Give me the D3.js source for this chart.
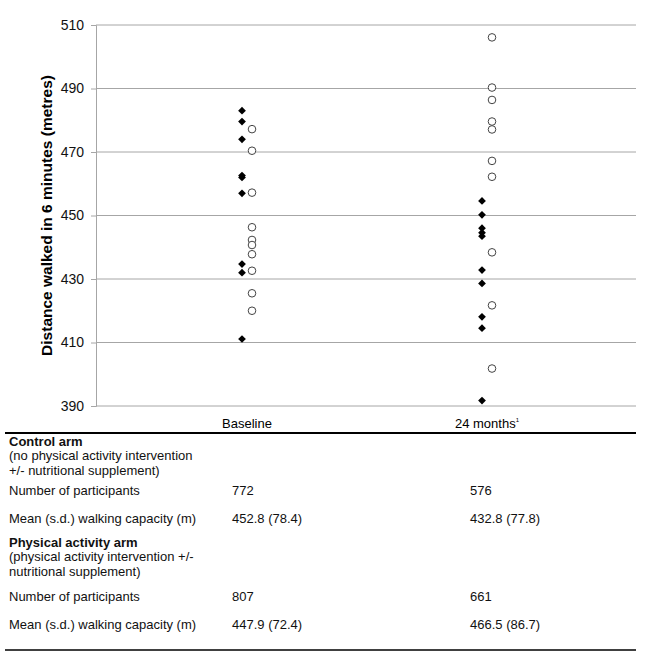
<!DOCTYPE html>
<html><head><meta charset="utf-8">
<script src="https://cdn.jsdelivr.net/npm/d3@7"></script>
<style>body{margin:0;background:#fff;font-family:"Liberation Sans",Arial,sans-serif}</style>
</head><body><svg id="c" width="656" height="659"></svg>
<script>
const categories = ["Baseline", "24 months"];
const yTicks = [390, 410, 430, 450, 470, 490, 510];
const controlBaseline = [483.0, 479.6, 474.0, 462.6, 462.0, 457.0, 434.7, 432.0, 411.1];
const controlMonth24 = [454.6, 450.2, 446.0, 444.6, 443.5, 432.8, 428.6, 418.1, 414.5, 391.7];
const activityBaseline = [477.2, 470.4, 457.2, 446.3, 442.3, 440.7, 437.8, 432.6, 425.5, 420.0];
const activityMonth24 = [506.1, 490.3, 486.4, 479.6, 477.1, 467.2, 462.2, 438.4, 421.7, 401.8];
const tableRows = [
  {label: "Number of participants", values: ["772", "576"]},
  {label: "Mean (s.d.) walking capacity (m)", values: ["452.8 (78.4)", "432.8 (77.8)"]},
  {label: "Number of participants", values: ["807", "661"]},
  {label: "Mean (s.d.) walking capacity (m)", values: ["447.9 (72.4)", "466.5 (86.7)"]}
];

const svg = d3.select("#c");
const pL = 96, pR = 636, pT = 25, pB = 406;
const y = d3.scaleLinear().domain([390, 510]).range([pB, pT]);
const x = d3.scalePoint().domain(categories).range([247, 487]);

// gridlines
svg.append("g").selectAll("line").data(yTicks).join("line")
  .attr("x1", pL).attr("x2", pR)
  .attr("y1", d => y(d)).attr("y2", d => y(d))
  .attr("stroke", "#a6a6a6").attr("stroke-width", 1);

// y axis
const ya = svg.append("g").attr("transform", `translate(${pL},0)`)
  .call(d3.axisLeft(y).tickValues(yTicks).tickSize(5).tickPadding(7));
ya.select(".domain").attr("stroke", "#a6a6a6");
ya.selectAll(".tick line").attr("stroke", "#a6a6a6");
ya.selectAll("text").attr("font-size", 14).attr("fill", "#111").attr("font-family", "Liberation Sans, Arial, sans-serif");

svg.append("text").attr("transform", `translate(52,${(pT+pB)/2}) rotate(-90)`)
  .attr("text-anchor", "middle").attr("font-weight", "bold").attr("font-size", 15.5)
  .text("Distance walked in 6 minutes (metres)");

// points
const diamond = d3.symbol().type(d3.symbolDiamond2).size(38);
const ctrl = [].concat(controlBaseline.map(v => ({c: categories[0], v})), controlMonth24.map(v => ({c: categories[1], v})));
const act = [].concat(activityBaseline.map(v => ({c: categories[0], v})), activityMonth24.map(v => ({c: categories[1], v})));
svg.append("g").selectAll("path").data(ctrl).join("path")
  .attr("d", diamond)
  .attr("transform", d => `translate(${x(d.c) - 5},${y(d.v)})`)
  .attr("fill", "#000");
svg.append("g").selectAll("circle").data(act).join("circle")
  .attr("cx", d => x(d.c) + 5).attr("cy", d => y(d.v)).attr("r", 3.8)
  .attr("fill", "#fff").attr("stroke", "#444").attr("stroke-width", 1);

// x labels
const xl = svg.append("g");
xl.append("text").attr("x", x(categories[0])).attr("y", 428).attr("text-anchor", "middle").attr("font-size", 13).text(categories[0]);
const t2 = xl.append("text").attr("x", x(categories[1])).attr("y", 428).attr("text-anchor", "middle").attr("font-size", 13);
t2.append("tspan").text(categories[1]);
t2.append("tspan").attr("font-size", 6).attr("dy", -6).text("1");

// table
svg.append("line").attr("x1", 5).attr("x2", 636).attr("y1", 433).attr("y2", 433).attr("stroke", "#000").attr("stroke-width", 2);
svg.append("line").attr("x1", 5).attr("x2", 636).attr("y1", 650).attr("y2", 650).attr("stroke", "#000").attr("stroke-width", 1.5);

const tx = 9, c1 = 232, c2 = 470, fs = 13;
function txt(s, xx, yy, bold) {
  svg.append("text").attr("x", xx).attr("y", yy).attr("font-size", fs)
    .attr("font-weight", bold ? "bold" : "normal").attr("fill", "#111").text(s);
}
txt("Control arm", tx, 446, true);
txt("(no physical activity intervention", tx, 460);
txt("+/- nutritional supplement)", tx, 475);
const rowY = [495, 523, 601, 629];
tableRows.forEach((r, i) => {
  txt(r.label, tx, rowY[i]);
  txt(r.values[0], c1, rowY[i]);
  txt(r.values[1], c2, rowY[i]);
});
txt("Physical activity arm", tx, 547, true);
txt("(physical activity intervention +/-", tx, 561);
txt("nutritional supplement)", tx, 576);
</script></body></html>
